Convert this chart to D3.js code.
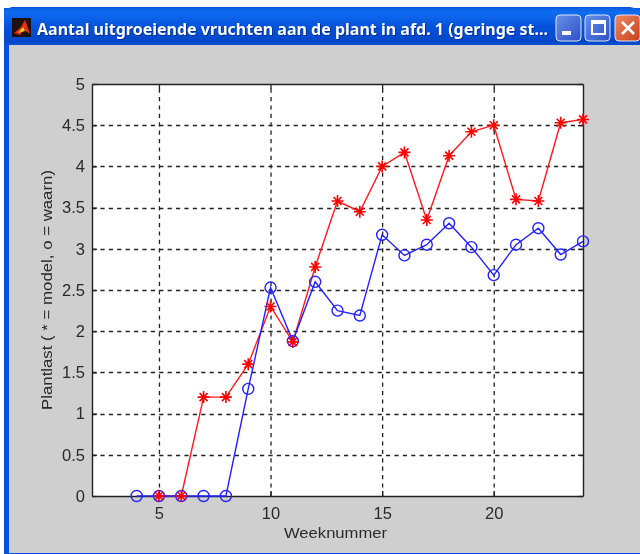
<!DOCTYPE html>
<html><head><meta charset="utf-8">
<script src="https://cdn.jsdelivr.net/npm/d3@7"></script>
<style>html,body{margin:0;padding:0;background:#fff}svg{display:block;filter:blur(0.35px)}</style>
</head><body><svg id="c" width="640" height="554" font-family="'Liberation Sans',Arial,sans-serif"></svg>
<script>
const titleText = "Aantal uitgroeiende vruchten aan de plant in afd. 1 (geringe st...";
const xLabel = "Weeknummer";
const yLabel = "Plantlast ( * = model, o = waarn)";
const xTicks = [5,10,15,20];
const yTicks = [0,0.5,1,1.5,2,2.5,3,3.5,4,4.5,5];
const modelWeeks = [5,6,7,8,9,10,11,12,13,14,15,16,17,18,19,20,21,22,23,24];
const modelValues = [0,0,1.2,1.2,1.6,2.3,1.87,2.78,3.58,3.45,4.0,4.17,3.35,4.13,4.42,4.5,3.6,3.58,4.53,4.57];
const obsWeeks = [4,5,6,7,8,9,10,11,12,13,14,15,16,17,18,19,20,21,22,23,24];
const obsValues = [0,0,0,0,0,1.3,2.53,1.88,2.6,2.25,2.19,3.17,2.92,3.05,3.31,3.02,2.68,3.05,3.25,2.93,3.09];

const svg = d3.select("#c");
const defs = svg.append("defs");
const g1 = defs.append("linearGradient").attr("id","tb").attr("x1",0).attr("x2",0).attr("y1",0).attr("y2",1);
[[0,"#0a5fe0"],[0.12,"#0f6cf0"],[0.5,"#0552dc"],[0.9,"#0348c8"],[1,"#0a50d0"]].forEach(s=>g1.append("stop").attr("offset",s[0]).attr("stop-color",s[1]));
const g2 = defs.append("linearGradient").attr("id","tr").attr("x1",0).attr("x2",1).attr("y1",0).attr("y2",1);
g2.append("stop").attr("offset",0).attr("stop-color","#ee8a60");g2.append("stop").attr("offset",1).attr("stop-color","#c8401c");
const g3 = defs.append("linearGradient").attr("id","bb").attr("x1",0).attr("x2",1).attr("y1",0).attr("y2",1);
g3.append("stop").attr("offset",0).attr("stop-color","#6a90e8");g3.append("stop").attr("offset",1).attr("stop-color","#2a50c8");

// window frame
svg.append("path").attr("d","M4,554V16Q4,8 12,7H630Q640,8 640,16V554Z").attr("fill","#0a50e0");
svg.append("rect").attr("x",4).attr("y",8).attr("width",636).attr("height",37).attr("fill","url(#tb)");
svg.append("rect").attr("x",9).attr("y",45).attr("width",631).attr("height",508).attr("fill","#cfcfcf");

// icon
svg.append("rect").attr("x",12).attr("y",18).attr("width",19).attr("height",19).attr("fill","#201010");
svg.append("path").attr("d","M14,33L21,27L25,20L28,28L30,34L24,30L20,35Z").attr("fill","#e03010");
svg.append("path").attr("d","M18,33L23,27L25,31Z").attr("fill","#f0d020");

// title
[[1,1,"#02309a"],[0,0,"#ffffff"]].forEach(s=>{
  svg.append("text").attr("x",37+s[0]).attr("y",35+s[1]).attr("font-size",15.5).attr("font-weight","bold").attr("fill",s[2])
    .attr("font-family","'Noto Sans',sans-serif").attr("textLength",511).attr("lengthAdjust","spacingAndGlyphs").text(titleText);
});

// buttons
[[556,"url(#bb)"],[585,"url(#bb)"],[615,"url(#tr)"]].forEach(b=>{
  svg.append("rect").attr("x",b[0]).attr("y",15).attr("width",25).attr("height",26).attr("rx",4).attr("fill",b[1]).attr("stroke","#dfe6f5").attr("stroke-width",1);
});
svg.append("rect").attr("x",562).attr("y",31).attr("width",9).attr("height",4).attr("fill","#fff");
svg.append("rect").attr("x",592).attr("y",21).attr("width",13).attr("height",13).attr("fill","none").attr("stroke","#fff").attr("stroke-width",2);
svg.append("rect").attr("x",592).attr("y",21).attr("width",13).attr("height",3).attr("fill","#fff");
svg.append("path").attr("d","M622,22L634,34M634,22L622,34").attr("stroke","#fff").attr("stroke-width",2.6);

// plot
const L=92,R=583,T=84,B=496;
const x=d3.scaleLinear().domain([2,24]).range([L,R]);
const y=d3.scaleLinear().domain([0,5]).range([B,T]);
svg.append("rect").attr("x",L).attr("y",T).attr("width",R-L).attr("height",B-T).attr("fill","#fff");
const grid=svg.append("g").attr("stroke","#222").attr("stroke-width",1.3).attr("stroke-dasharray","4.2,4.2").attr("fill","none");
xTicks.forEach(t=>grid.append("line").attr("x1",x(t)+.5).attr("x2",x(t)+.5).attr("y1",B).attr("y2",T));
yTicks.slice(1,-1).forEach(t=>grid.append("line").attr("x1",L).attr("x2",R).attr("y1",Math.round(y(t))+.5).attr("y2",Math.round(y(t))+.5));

const style=g=>{g.selectAll(".domain").attr("stroke","#222").attr("stroke-width",1.4);
  g.selectAll("line").attr("stroke","#222").attr("stroke-width",1.3);
  g.selectAll("text").attr("fill","#2a2a2a").attr("font-size",16.5);};
svg.append("g").attr("transform",`translate(0,${B})`).call(d3.axisBottom(x).tickValues(xTicks).tickFormat(d3.format("d")).tickSize(-5).tickPadding(11).tickSizeOuter(0)).call(style);
svg.append("g").attr("transform",`translate(0,${T})`).call(d3.axisTop(x).tickValues(xTicks).tickFormat("").tickSize(-5).tickSizeOuter(0)).call(style);
svg.append("g").attr("transform",`translate(${L},0)`).call(d3.axisLeft(y).tickValues(yTicks).tickFormat(d3.format("")).tickSize(-5).tickPadding(7).tickSizeOuter(0)).call(style);
svg.append("g").attr("transform",`translate(${R},0)`).call(d3.axisRight(y).tickValues(yTicks).tickFormat("").tickSize(-5).tickSizeOuter(0)).call(style);

svg.append("text").attr("x",335.5).attr("y",538).attr("text-anchor","middle").attr("font-size",15.5).attr("fill","#2a2a2a").attr("textLength",103).attr("lengthAdjust","spacingAndGlyphs").text(xLabel);
svg.append("text").attr("transform","translate(52,290) rotate(-90)").attr("text-anchor","middle").attr("font-size",15.5).attr("fill","#2a2a2a").attr("textLength",240).attr("lengthAdjust","spacingAndGlyphs").text(yLabel);

// series
const line=d3.line().x(d=>x(d[0])).y(d=>y(d[1]));
const model=d3.zip(modelWeeks,modelValues), obs=d3.zip(obsWeeks,obsValues);
const overlay=svg.append("g").attr("fill","none");
overlay.append("path").attr("d",line(model)).attr("stroke","#ff1a1a").attr("stroke-width",1.4);
overlay.append("path").attr("d",line(obs)).attr("stroke","#2222ff").attr("stroke-width",1.4);
overlay.selectAll(".o").data(obs).join("circle").attr("class","o").attr("cx",d=>x(d[0])).attr("cy",d=>y(d[1])).attr("r",5.5).attr("stroke","#2222ff").attr("stroke-width",1.4);
overlay.selectAll(".s").data(model).join("path").attr("class","s").attr("transform",d=>`translate(${x(d[0])},${y(d[1])})`)
  .attr("d","M-6,0H6M0,-6V6M-4,-4L4,4M-4,4L4,-4").attr("stroke","#ff0000").attr("stroke-width",1.6);
</script></body></html>
